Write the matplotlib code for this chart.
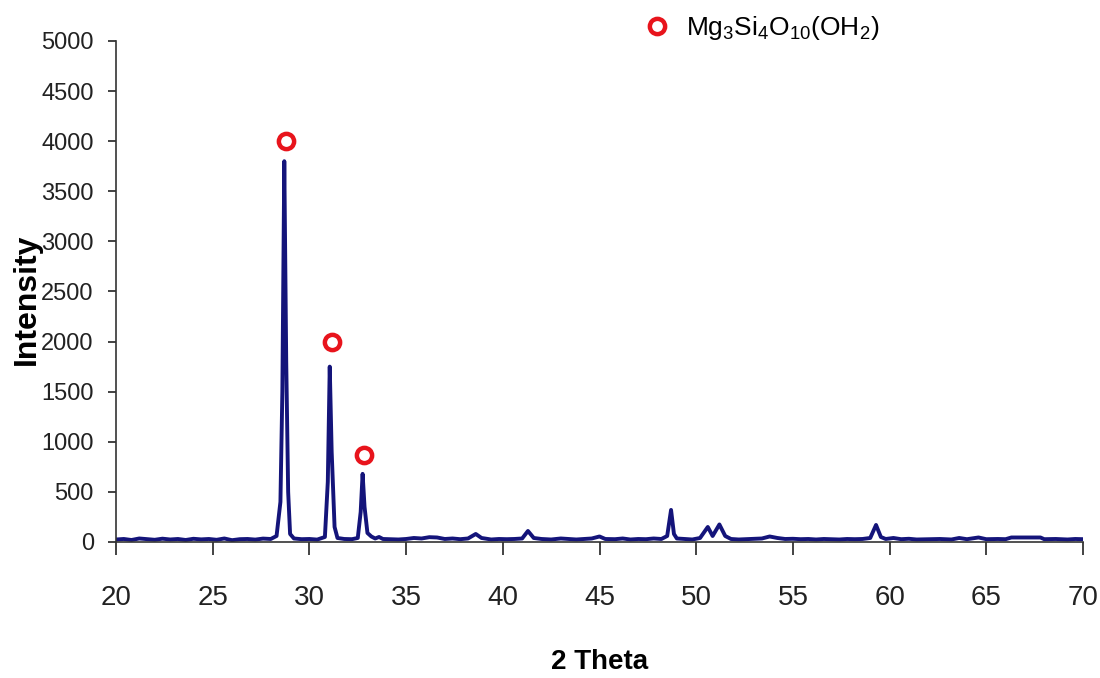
import matplotlib
matplotlib.use("Agg")
import matplotlib.pyplot as plt
from matplotlib.lines import Line2D

plt.rcParams['font.family'] = ['Liberation Sans', 'DejaVu Sans']
plt.rcParams['mathtext.fontset'] = 'custom'
plt.rcParams['mathtext.rm'] = 'Liberation Sans'
plt.rcParams['mathtext.it'] = 'Liberation Sans'

# XRD pattern (2 theta vs intensity)
two_theta = [
    20.0, 20.4, 20.8, 21.2, 21.6, 22.0, 22.4, 22.8, 23.2, 23.6, 24.0, 24.4, 24.8,
    25.2, 25.6, 26.0, 26.4, 26.8, 27.2, 27.6, 28.0, 28.3, 28.5, 28.6, 28.7, 28.8,
    28.9, 29.0, 29.2, 29.6, 30.0, 30.4, 30.8, 30.95, 31.05, 31.15, 31.3, 31.45,
    31.8, 32.2, 32.5, 32.65, 32.75, 32.85, 33.0, 33.2, 33.4, 33.6, 33.8, 34.2,
    34.6, 35.0, 35.4, 35.8, 36.2, 36.6, 37.0, 37.4, 37.8, 38.2, 38.6, 38.9, 39.4,
    39.8, 40.2, 40.6, 41.0, 41.3, 41.6, 42.0, 42.5, 43.0, 43.4, 43.8, 44.2, 44.6,
    45.0, 45.3, 45.8, 46.2, 46.6, 47.0, 47.4, 47.8, 48.2, 48.5, 48.7, 48.85, 49.0,
    49.4, 49.8, 50.2, 50.6, 50.85, 51.2, 51.5, 51.8, 52.2, 52.6, 53.0, 53.4, 53.8,
    54.2, 54.6, 55.0, 55.4, 55.8, 56.2, 56.6, 57.0, 57.4, 57.8, 58.2, 58.6, 59.0,
    59.3, 59.55, 59.8, 60.2, 60.6, 61.0, 61.4, 62.0, 62.6, 63.2, 63.6, 64.0, 64.6,
    65.0, 65.6, 66.0, 66.3, 66.6, 67.0, 67.4, 67.8, 68.0, 68.6, 69.2, 69.6, 70.0,
]
intensity = [
    25, 30, 20, 35, 28, 22, 33, 25, 30, 20, 32, 26, 30,
    22, 35, 18, 28, 30, 24, 34, 30, 60, 400, 1500, 3800, 1800,
    500, 80, 35, 28, 30, 24, 50, 600, 1750, 900, 150, 40,
    30, 28, 40, 300, 680, 350, 90, 55, 35, 50, 30, 28,
    25, 30, 40, 35, 48, 45, 30, 35, 28, 35, 80, 40, 25,
    30, 28, 30, 35, 110, 40, 30, 25, 35, 30, 25, 30, 35,
    55, 30, 28, 35, 25, 30, 28, 35, 30, 60, 320, 80, 35,
    30, 25, 40, 150, 60, 175, 60, 30, 25, 28, 30, 35, 55,
    40, 30, 32, 28, 30, 25, 30, 28, 25, 30, 28, 30, 40,
    170, 50, 30, 40, 28, 32, 25, 28, 30, 25, 40, 28, 45,
    28, 30, 28, 45, 45, 45, 45, 45, 28, 30, 25, 30, 28,
]

# Peaks assigned to Mg3Si4O10(OH2)
peak_theta = [28.8, 31.15, 32.8]
peak_mark = [4000, 2000, 870]

x_ticks = [20, 25, 30, 35, 40, 45, 50, 55, 60, 65, 70]
y_ticks = [0, 500, 1000, 1500, 2000, 2500, 3000, 3500, 4000, 4500, 5000]

navy = '#14147a'
red = '#e8141c'

fig = plt.figure(figsize=(11, 6.78), dpi=100)
ax = fig.add_axes([0.1055, 0.2006, 0.879, 0.739])

ax.plot(two_theta, intensity, color=navy, lw=2.8, solid_joinstyle='round')
ax.plot(peak_theta, peak_mark, ls='none', marker='o', ms=11, mfc='white',
        mec=red, mew=3.2)

ax.set_xlim(20, 70)
ax.set_ylim(0, 5000)
ax.set_xticks(x_ticks)
ax.set_yticks(y_ticks)
ax.tick_params(axis='x', direction='out', length=9, width=1.2, pad=22,
               labelsize=20, colors='#222222')
ax.tick_params(axis='y', direction='out', length=6, width=1.2, pad=10,
               labelsize=17, colors='#222222')
for side in ('top', 'right'):
    ax.spines[side].set_visible(False)
for side in ('left', 'bottom'):
    ax.spines[side].set_color('#333333')
    ax.spines[side].set_linewidth(1.2)

ax.set_xlabel('2 Theta', fontsize=20, fontweight='bold')
ax.xaxis.set_label_coords(0.5, -0.214)
ax.set_ylabel('Intensity', fontsize=23, fontweight='bold')
ax.yaxis.set_label_coords(-0.077, 0.485)

handle = Line2D([], [], ls='none', marker='o', ms=11, mfc='white', mec=red, mew=3.2)
fig.legend([handle], [r'Mg$_3$Si$_4$O$_{10}$(OH$_2$)'], loc='center left',
           bbox_to_anchor=(0.552, 0.958), frameon=False, handletextpad=0.1,
           prop={'family': 'Liberation Sans', 'size': 19})

fig.savefig('out.png', dpi=100, facecolor='white')
